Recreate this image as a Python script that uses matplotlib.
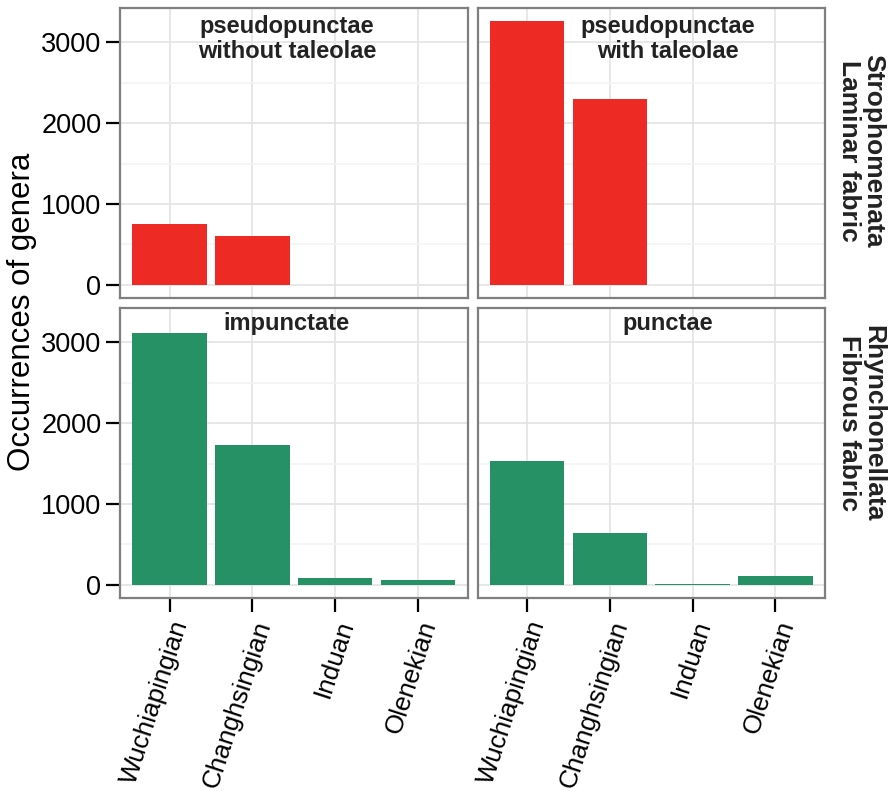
import numpy as np
import matplotlib.pyplot as plt

plt.rcParams['font.family'] = ['Liberation Sans', 'DejaVu Sans']

stages = ["Wuchiapingian", "Changhsingian", "Induan", "Olenekian"]

# occurrences of genera per stage, one list per facet
pseudo_without = [751, 603, 0, 0]
pseudo_with = [3263, 2303, 0, 0]
impunctate = [3120, 1726, 90, 62]
punctae = [1529, 641, 12, 111]

red = "#EE2A24"
green = "#279166"

panels = [
    (pseudo_without, "pseudopunctae\nwithout taleolae", red, 0.48),
    (pseudo_with, "pseudopunctae\nwith taleolae", red, 0.548),
    (impunctate, "impunctate", green, 0.48),
    (punctae, "punctae", green, 0.548),
]

fig, axes = plt.subplots(2, 2, figsize=(8.93, 7.91), dpi=100, sharex=True, sharey=True)
fig.subplots_adjust(left=0.1344, right=0.924, top=0.99, bottom=0.244,
                    wspace=0.0288, hspace=0.0344)

x = np.arange(len(stages))
ymax = max(max(p[0]) for p in panels)

for ax, (vals, label, col, tx) in zip(axes.flat, panels):
    ax.bar(x, vals, width=0.9, color=col, zorder=3)
    ax.set_xlim(-0.6, len(stages) - 0.4)
    ax.set_ylim(-0.05 * ymax, 1.05 * ymax)
    ax.set_yticks([0, 1000, 2000, 3000])
    ax.set_yticks([500, 1500, 2500], minor=True)
    ax.set_xticks(x)
    ax.grid(True, which='major', color='#e3e3e3', linewidth=1.2, zorder=0)
    ax.grid(True, which='minor', axis='y', color='#f3f3f3', linewidth=1.2, zorder=0)
    for s in ax.spines.values():
        s.set_color('#7f7f7f')
        s.set_linewidth(1.6)
    ax.tick_params(which='minor', length=0)
    ax.tick_params(which='major', length=10, width=1.6, color='black',
                   labelsize=19.5, labelcolor='black')
    ax.text(tx, 0.975 if '\n' in label else 0.985, label, transform=ax.transAxes,
            ha='center', va='top', fontsize=17, fontweight='bold', color='#222222',
            linespacing=1.1)

for ax in axes[0]:
    ax.tick_params(axis='x', length=0)
for ax in axes[:, 1]:
    ax.tick_params(axis='y', length=0)

for ax in axes[1]:
    ax.set_xticks(x)
    ax.set_xticklabels(stages, rotation=72, ha='right', va='top',
                       rotation_mode='anchor', fontsize=18.8)
    ax.tick_params(axis='x', pad=4)

fig.text(22 / 893, 1 - 312 / 791, "Occurrences of genera", rotation=90,
         ha='center', va='center', fontsize=22.5)
fig.text(861 / 893, 1 - 151 / 791, "Strophomenata\nLaminar fabric", rotation=-90,
         ha='center', va='center', fontsize=19, fontweight='bold', color='#222222',
         multialignment='center', linespacing=1.0)
fig.text(861 / 893, 1 - 423 / 791, "Rhynchonellata\nFibrous fabric", rotation=-90,
         ha='center', va='center', fontsize=19, fontweight='bold', color='#222222',
         multialignment='center', linespacing=1.0)

fig.savefig("out.png", dpi=100)
